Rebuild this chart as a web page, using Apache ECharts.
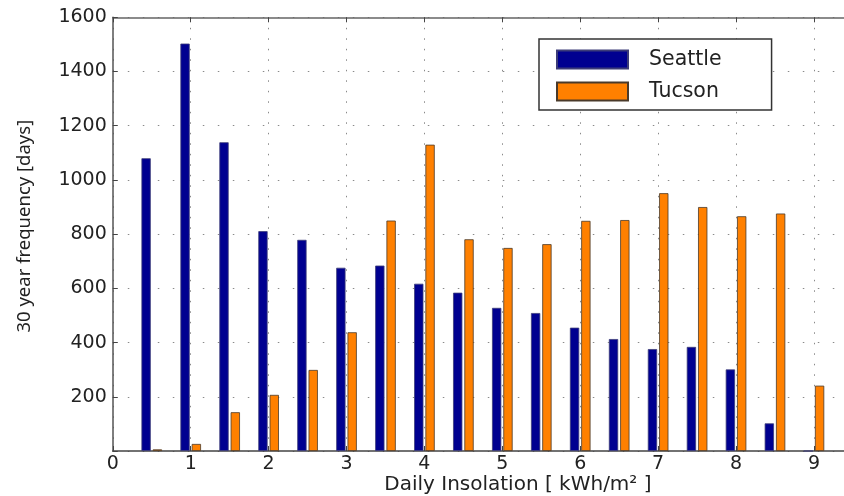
<!DOCTYPE html>
<html>
<head>
<meta charset="utf-8">
<script src="https://cdn.jsdelivr.net/npm/echarts@6/dist/echarts.min.js"></script>
<style>html,body{margin:0;padding:0;background:#fff}#c{width:844px;height:496px}</style>
</head>
<body>
<div id="c"></div>
<script>
// Bin centers (kWh/m^2)
var binCenters = [0.5, 1.0, 1.5, 2.0, 2.5, 3.0, 3.5, 4.0, 4.5, 5.0, 5.5, 6.0, 6.5, 7.0, 7.5, 8.0, 8.5, 9.0];
// 30-year frequency [days]
var seattle = [1080, 1503, 1139, 811, 779, 676, 684, 617, 584, 528, 509, 455, 413, 376, 384, 301, 102, 0];
var tucson  = [6, 26, 143, 207, 299, 438, 850, 1130, 781, 749, 763, 849, 852, 951, 900, 866, 876, 241];
var seriesNames = ['Seattle', 'Tucson'];
var xTicks = [0, 1, 2, 3, 4, 5, 6, 7, 8, 9];
var yTicks = [200, 400, 600, 800, 1000, 1200, 1400, 1600];

function pairs(vals) {
  return binCenters.map(function (x, i) { return [x, vals[i]]; });
}

var FONT = 'DejaVu Sans';
var chart = echarts.init(document.getElementById('c'), null, {renderer: 'canvas'});
chart.setOption({
  animation: false,
  backgroundColor: '#ffffff',
  grid: {left: 112.8, top: 17.3, bottom: 45, width: 810.2, containLabel: false, outerBoundsMode: 'none'},
  legend: {
    data: seriesNames,
    orient: 'vertical',
    left: 539, top: 39,
    padding: [10, 50, 8, 17],
    itemWidth: 71, itemHeight: 18, itemGap: 11,
    icon: 'rect',
    borderColor: '#333', borderWidth: 1.5,
    backgroundColor: '#fff',
    textStyle: {fontFamily: FONT, fontSize: 20.5, color: '#222', padding: [0, 0, 0, 16], lineHeight: 18}
  },
  xAxis: [{
    type: 'value', min: 0, max: 10.4, interval: 1,
    name: 'Daily Insolation [ kWh/m\u00B2 ]',
    nameLocation: 'middle', nameGap: 24, nameMoveOverlap: false,
    nameTextStyle: {fontFamily: FONT, fontSize: 20, color: '#222'},
    axisLine: {show: true, onZero: false, lineStyle: {color: '#444', width: 1.5}},
    axisTick: {show: true, inside: true, length: 5, lineStyle: {color: '#444'}},
    axisLabel: {
      fontFamily: FONT, fontSize: 19, color: '#222', margin: 4,
      formatter: function (v) { return xTicks.indexOf(v) >= 0 ? String(v) : ''; }
    },
    splitLine: {show: true, lineStyle: {color: '#8a8a8a', width: 1, type: [1.5, 9]}}
  }, {
    type: 'value', min: 0, max: 10.4, interval: 1, position: 'top',
    axisLine: {show: true, onZero: false, lineStyle: {color: '#666', width: 1.5}},
    axisTick: {show: true, inside: true, length: 5, lineStyle: {color: '#444'}},
    axisLabel: {show: false},
    splitLine: {show: false}
  }],
  yAxis: {
    type: 'value', min: 0, max: 1600, interval: 200,
    name: '30 year frequency [days]',
    nameLocation: 'middle', nameGap: 79, nameMoveOverlap: false,
    nameTextStyle: {fontFamily: 'Noto Sans', fontSize: 18.5, color: '#222', padding: [0, 0, 0, 16]},
    axisLine: {show: true, onZero: false, lineStyle: {color: '#555', width: 1.5}},
    axisTick: {show: true, inside: true, length: 5, lineStyle: {color: '#444'}},
    axisLabel: {
      fontFamily: FONT, fontSize: 19, color: '#222', margin: 6,
      formatter: function (v) { return yTicks.indexOf(v) >= 0 ? String(v) : ''; }
    },
    splitLine: {show: true, lineStyle: {color: '#8a8a8a', width: 1, type: [1.5, 13.5]}}
  },
  series: [{
    name: seriesNames[0], type: 'bar', xAxisIndex: 0,
    data: pairs(seattle),
    barWidth: 9.3, barGap: '21.5%',
    itemStyle: {color: '#000090', borderColor: '#3c3c78', borderWidth: 0.8}
  }, {
    name: seriesNames[1], type: 'bar', xAxisIndex: 0,
    data: pairs(tucson),
    barWidth: 9.3, barGap: '21.5%',
    itemStyle: {color: '#ff8000', borderColor: '#4a3a2a', borderWidth: 0.8}
  }]
});
</script>
</body>
</html>
